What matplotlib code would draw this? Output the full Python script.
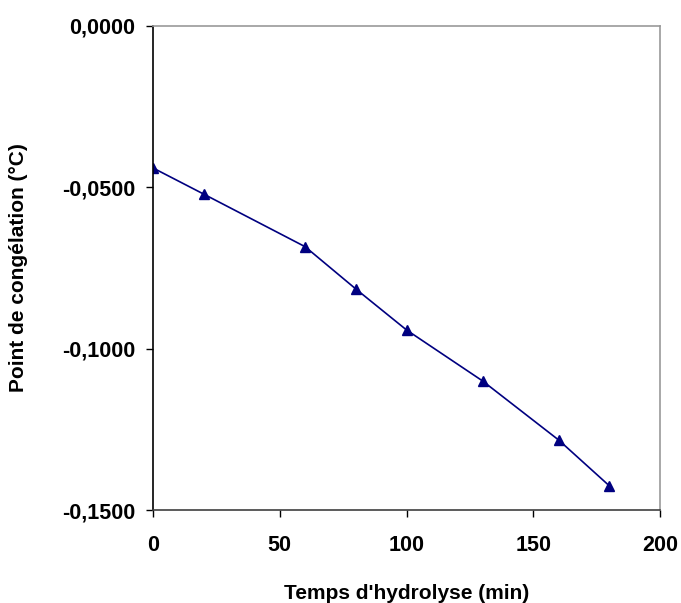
import matplotlib
matplotlib.use("Agg")
import matplotlib.pyplot as plt
from matplotlib.ticker import FuncFormatter

# temps d'hydrolyse (min) et point de congélation (°C)
temps = [0, 20, 60, 80, 100, 130, 160, 180]
point_congelation = [-0.0440, -0.0521, -0.0684, -0.0815, -0.0942, -0.1100, -0.1283, -0.1425]

x_ticks = [0, 50, 100, 150, 200]
y_ticks = [0.0, -0.05, -0.10, -0.15]

plt.rcParams['font.family'] = ['Liberation Sans', 'DejaVu Sans']
plt.rcParams['font.weight'] = 'bold'

fig = plt.figure(figsize=(6.81, 6.03), dpi=100)
ax = fig.add_axes([0.2247, 0.1542, 0.7445, 0.8027])

ax.plot(temps, point_congelation, color='#000080', linewidth=1.2,
        marker='^', markersize=7.5, markerfacecolor='#000080', markeredgecolor='#000080')

ax.set_xlim(0, 200)
ax.set_ylim(-0.15, 0.0)
ax.set_xticks(x_ticks)
ax.set_yticks(y_ticks)
ax.yaxis.set_major_formatter(FuncFormatter(lambda v, p: f"{v:.4f}".replace('.', ',').replace('-0,0000', '0,0000')))

ax.tick_params(axis='both', direction='out', length=5, width=1, labelsize=15.5, pad=8)
ax.tick_params(axis='x', pad=13)
for lab in ax.get_xticklabels() + ax.get_yticklabels():
    lab.set_fontweight('bold')

ax.spines['left'].set_color('black')
ax.spines['bottom'].set_color('#404040')
ax.spines['top'].set_color('#999999')
ax.spines['right'].set_color('#999999')
for s in ax.spines.values():
    s.set_linewidth(1.2)

ax.set_xlabel("Temps d'hydrolyse (min)", fontsize=15, fontweight='bold', labelpad=20)
ax.set_ylabel("Point de congélation (°C)", fontsize=15, fontweight='bold', labelpad=24)

fig.savefig('out.png', dpi=100)
